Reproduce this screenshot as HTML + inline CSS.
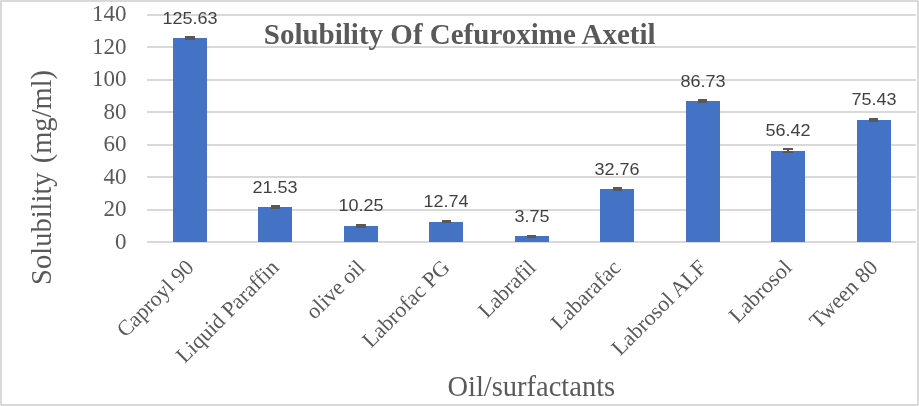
<!DOCTYPE html>
<html><head><meta charset="utf-8"><style>
html,body{margin:0;padding:0;background:#fff;}
body{width:919px;height:406px;overflow:hidden;}
svg{display:block;}
.ax{font-family:"Liberation Serif",serif;fill:#595959;}
.dl{font-family:"Liberation Sans",sans-serif;fill:#404040;}
</style></head><body>
<svg width="919" height="406" viewBox="0 0 919 406" shape-rendering="crispEdges">
<rect x="0" y="0" width="919" height="406" fill="#fff"/>
<rect x="1" y="1" width="917" height="404" fill="none" stroke="#d9d9d9" stroke-width="2"/>
<rect x="0" y="0" width="1" height="1" fill="#e8e8e8"/><rect x="918" y="0" width="1" height="1" fill="#e8e8e8"/><rect x="0" y="405" width="1" height="1" fill="#e8e8e8"/><rect x="918" y="405" width="1" height="1" fill="#e8e8e8"/>

<rect x="147" y="241" width="769" height="2" fill="#d9d9d9"/>
<rect x="147" y="209" width="769" height="2" fill="#d9d9d9"/>
<rect x="147" y="176" width="769" height="2" fill="#d9d9d9"/>
<rect x="147" y="144" width="769" height="2" fill="#d9d9d9"/>
<rect x="147" y="111" width="769" height="2" fill="#d9d9d9"/>
<rect x="147" y="79" width="769" height="2" fill="#d9d9d9"/>
<rect x="147" y="46" width="769" height="2" fill="#d9d9d9"/>
<rect x="147" y="14" width="769" height="2" fill="#d9d9d9"/>
<text class="ax" x="126.5" y="249.00" font-size="23" text-anchor="end">0</text>
<text class="ax" x="126.5" y="216.43" font-size="23" text-anchor="end">20</text>
<text class="ax" x="126.5" y="183.86" font-size="23" text-anchor="end">40</text>
<text class="ax" x="126.5" y="151.29" font-size="23" text-anchor="end">60</text>
<text class="ax" x="126.5" y="118.71" font-size="23" text-anchor="end">80</text>
<text class="ax" x="126.5" y="86.14" font-size="23" text-anchor="end">100</text>
<text class="ax" x="126.5" y="53.57" font-size="23" text-anchor="end">120</text>
<text class="ax" x="126.5" y="21.00" font-size="23" text-anchor="end">140</text>
<rect x="173" y="38" width="34" height="204" fill="#4472c4"/>
<rect x="185" y="36" width="10" height="4" fill="#595959"/>
<text class="dl" transform="translate(190,24) scale(1,0.92)" font-size="18" text-anchor="middle">125.63</text>
<rect x="258" y="207" width="34" height="35" fill="#4472c4"/>
<rect x="271" y="205" width="9" height="4" fill="#595959"/>
<text class="dl" transform="translate(275,193) scale(1,0.92)" font-size="18" text-anchor="middle">21.53</text>
<rect x="344" y="226" width="34" height="16" fill="#4472c4"/>
<rect x="356" y="224" width="10" height="4" fill="#595959"/>
<text class="dl" transform="translate(361,211) scale(1,0.92)" font-size="18" text-anchor="middle">10.25</text>
<rect x="429" y="222" width="34" height="20" fill="#4472c4"/>
<rect x="442" y="220" width="9" height="3" fill="#595959"/>
<text class="dl" transform="translate(446,207) scale(1,0.92)" font-size="18" text-anchor="middle">12.74</text>
<rect x="515" y="236" width="34" height="6" fill="#4472c4"/>
<rect x="527" y="235" width="9" height="3" fill="#595959"/>
<text class="dl" transform="translate(532,222) scale(1,0.92)" font-size="18" text-anchor="middle">3.75</text>
<rect x="600" y="189" width="34" height="53" fill="#4472c4"/>
<rect x="613" y="187" width="9" height="4" fill="#595959"/>
<text class="dl" transform="translate(617,175) scale(1,0.92)" font-size="18" text-anchor="middle">32.76</text>
<rect x="686" y="101" width="34" height="141" fill="#4472c4"/>
<rect x="698" y="99" width="9" height="4" fill="#595959"/>
<text class="dl" transform="translate(703,87) scale(1,0.92)" font-size="18" text-anchor="middle">86.73</text>
<rect x="771" y="151" width="34" height="91" fill="#4472c4"/>
<rect x="783" y="148" width="10" height="2" fill="#595959"/><rect x="787" y="150" width="2" height="1" fill="#595959"/><rect x="783" y="151" width="10" height="2" fill="#595959"/>
<text class="dl" transform="translate(788,136) scale(1,0.92)" font-size="18" text-anchor="middle">56.42</text>
<rect x="857" y="120" width="34" height="122" fill="#4472c4"/>
<rect x="869" y="118" width="9" height="4" fill="#595959"/>
<text class="dl" transform="translate(874,105) scale(1,0.92)" font-size="18" text-anchor="middle">75.43</text>
<text class="ax" font-size="22" text-anchor="end" transform="translate(195.00,268.8) rotate(-45)">Caproyl 90</text>
<text class="ax" font-size="22" text-anchor="end" transform="translate(280.00,268.8) rotate(-45)">Liquid Paraffin</text>
<text class="ax" font-size="22" text-anchor="end" transform="translate(366.00,268.8) rotate(-45)">olive oil</text>
<text class="ax" font-size="22" text-anchor="end" transform="translate(451.00,268.8) rotate(-45)">Labrofac PG</text>
<text class="ax" font-size="22" text-anchor="end" transform="translate(537.00,268.8) rotate(-45)">Labrafil</text>
<text class="ax" font-size="22" text-anchor="end" transform="translate(622.00,268.8) rotate(-45)">Labarafac</text>
<text class="ax" font-size="22" text-anchor="end" transform="translate(708.00,268.8) rotate(-45)">Labrosol ALF</text>
<text class="ax" font-size="22" text-anchor="end" transform="translate(793.00,268.8) rotate(-45)">Labrosol</text>
<text class="ax" font-size="22" text-anchor="end" transform="translate(879.00,268.8) rotate(-45)">Tween 80</text>
<text class="ax" x="263.8" y="44" font-size="29" font-weight="bold">Solubility Of Cefuroxime Axetil</text>
<text class="ax" font-size="28.5" word-spacing="2" text-anchor="middle" transform="translate(50.9,177.4) rotate(-90)">Solubility (mg/ml)</text>
<text class="ax" x="531.3" y="396.3" font-size="28.5" text-anchor="middle">Oil/surfactants</text>
</svg></body></html>
